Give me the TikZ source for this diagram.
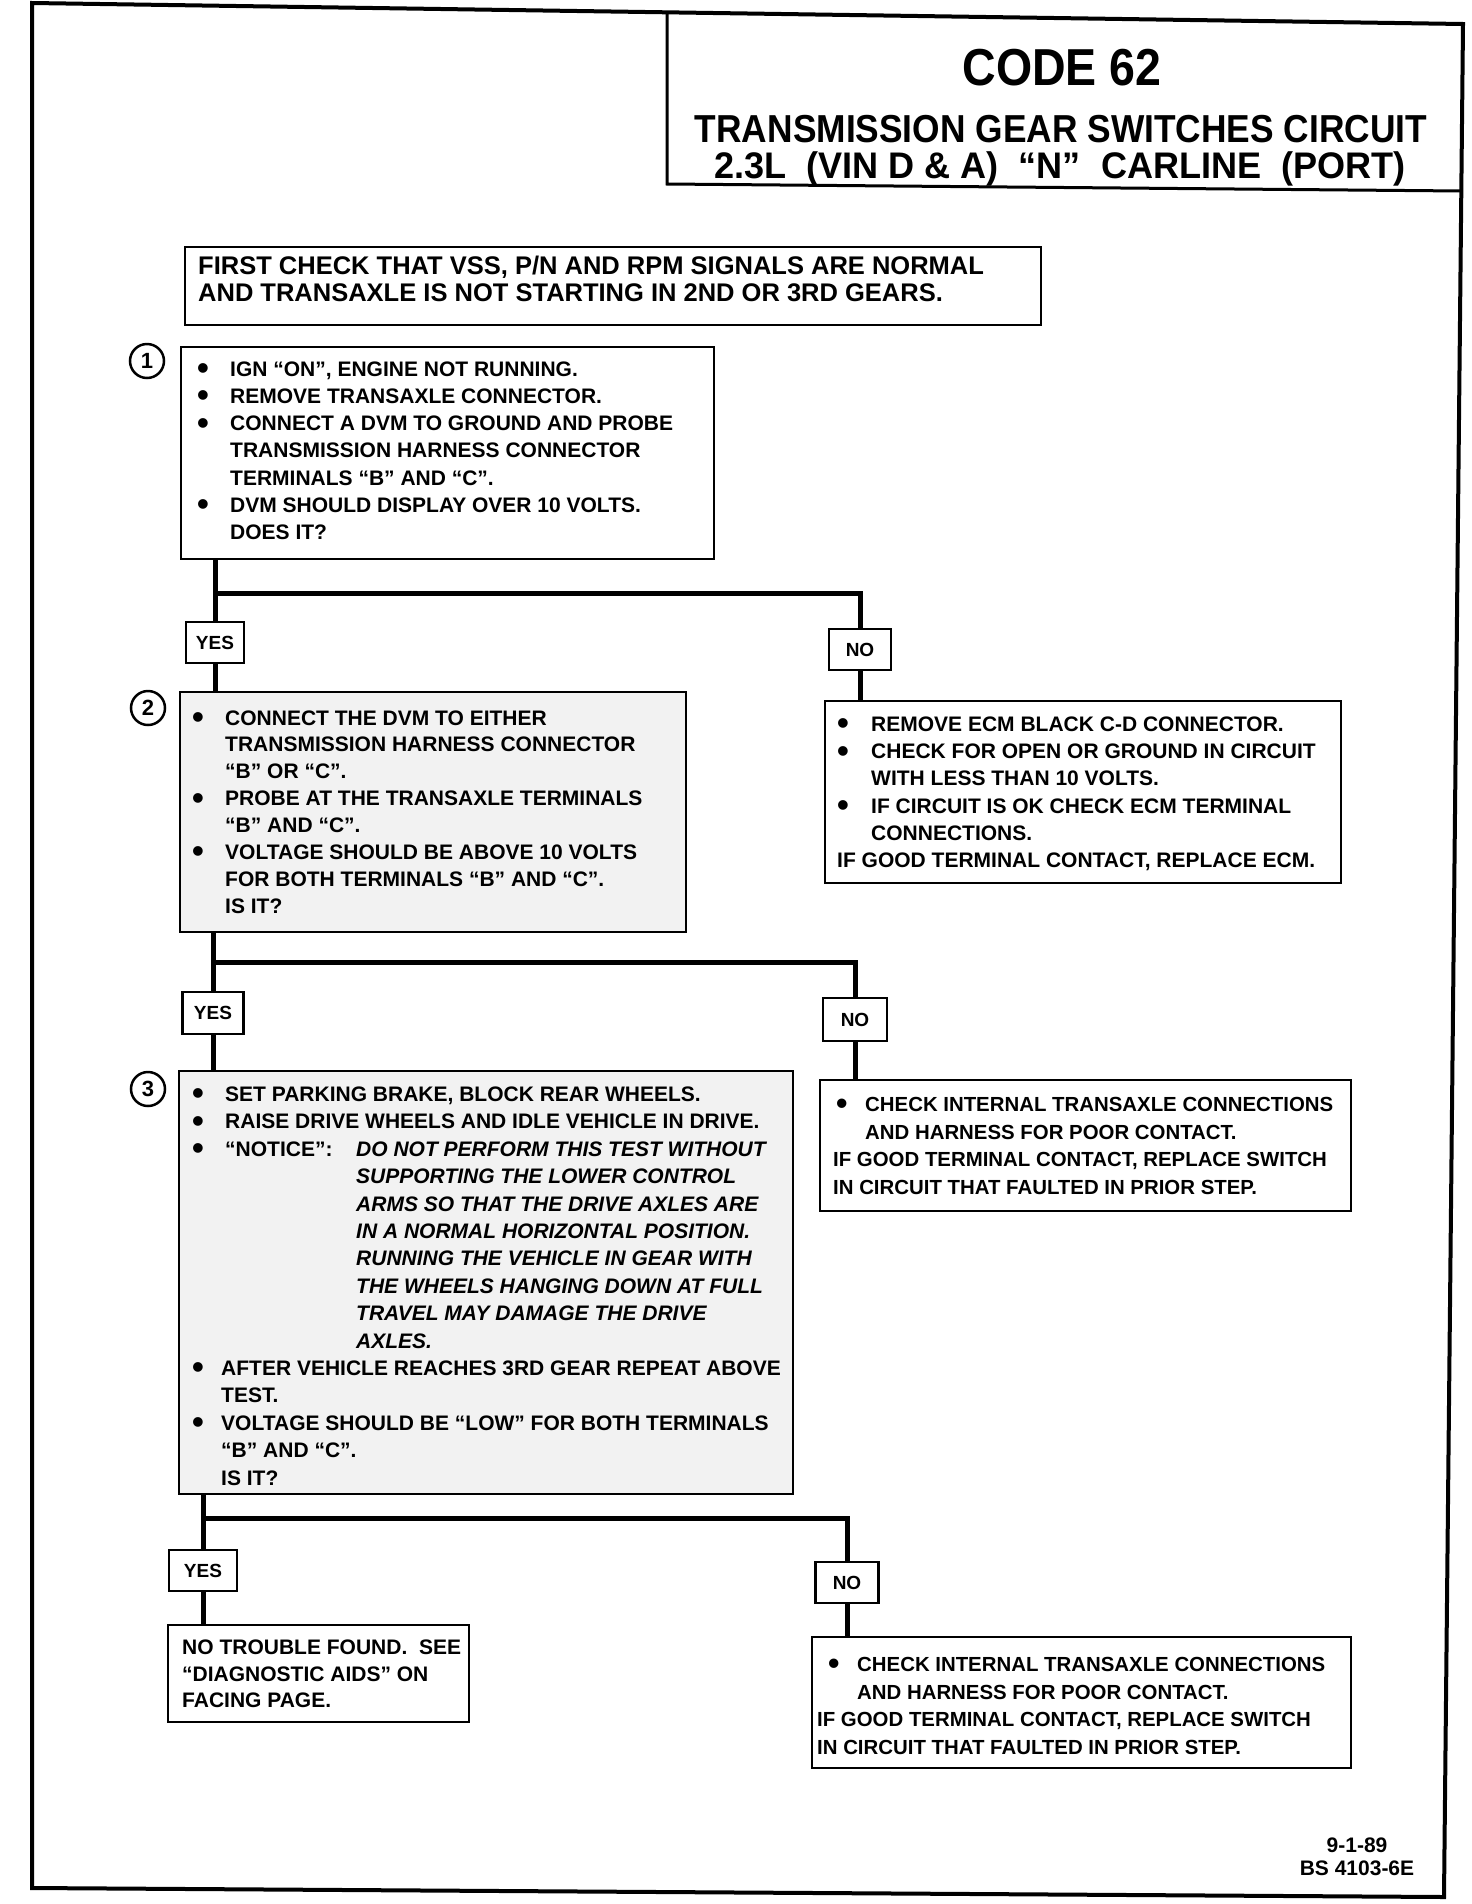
\documentclass[tikz,border=0pt]{standalone}
\usepackage{fontspec}
\usepackage{graphicx}
\setmainfont{Liberation Sans}
\newcommand{\bigdot}{\raisebox{-3.4pt}[0pt][0pt]{\scalebox{1.6}{\textbullet}}}
\newcommand{\bul}[1][33pt]{\makebox[#1][l]{\bigdot}}
\newcommand{\ind}[1][33pt]{\hspace*{#1}}
\newcommand{\tl}[1]{\parbox[t]{900pt}{\raggedright #1}}
\newcommand{\bx}[6][]{\node[boxst,#1,minimum width={#5-#3},minimum height={#6-#4}] (#2) at ({(#3+#5)/2},{(#4+#6)/2}) {};}
\begin{document}
\begin{tikzpicture}[x=1pt,y=-1pt,
  boxst/.style={draw, line width=2.5pt, inner sep=0pt, fill=white},
  shaded/.style={fill=black!5},
  txt/.style={anchor=base west, inner sep=0pt, font=\fontsize{21}{#1}\selectfont\bfseries},
  txt/.default=27.3,
  txtn/.style={anchor=base west, inner sep=0pt, font=\fontsize{20.4}{#1}\selectfont\bfseries},
  lbl/.style={draw, line width=2.5pt, inner sep=0pt, fill=white, font=\fontsize{19}{19}\selectfont\bfseries},
  conn/.style={line width=5pt},
  num/.style={draw, circle, line width=2.5pt, minimum size=34pt, inner sep=0pt, font=\fontsize{22}{22}\selectfont\bfseries}]
\useasboundingbox (0,0) rectangle (1472,1904);
\fill[white] (0,0) rectangle (1472,1904);
% frame
\draw[line width=4pt, line join=miter] (32,3) -- (1463,24) -- (1444,1897) -- (32,1888) -- cycle;
% title box
\draw[line width=3pt] (667,13) -- (667,184) -- (1462,191);
\node[anchor=base, inner sep=0pt] (code) at (1062,85) {\fontsize{52}{52}\selectfont\bfseries\scalebox{0.894}[1]{CODE 62}};
\node[anchor=base, inner sep=0pt] (tl2) at (1061,142) {\fontsize{39}{39}\selectfont\bfseries\scalebox{0.906}[1]{TRANSMISSION GEAR SWITCHES CIRCUIT}};
\node[anchor=base, inner sep=0pt] (tl3) at (1060,178) {\fontsize{37}{37}\selectfont\bfseries\scalebox{0.975}[1]{2.3L\ \ (VIN D \& A)\ \ “N”\ \ CARLINE\ \ (PORT)}};

% boxes
\bx{fc}{185}{247}{1041}{325}
\bx{b1}{181}{347}{714}{559}
\bx{n1r}{825}{701}{1341}{883}
\bx[shaded]{b2}{180}{692}{686}{932}
\bx{n2r}{820}{1080}{1351}{1211}
\bx[shaded]{b3}{179}{1071}{793}{1494}
\bx{y3r}{168}{1625}{469}{1722}
\bx{n3r}{812}{1637}{1351}{1768}

% yes / no labels
\node[lbl, minimum width=58pt, minimum height=41pt] (yes1) at (215,642.5) {YES};
\node[lbl, minimum width=62pt, minimum height=41pt] (no1) at (860,649.5) {NO};
\node[lbl, minimum width=61pt, minimum height=42pt] (yes2) at (213,1013) {YES};
\node[lbl, minimum width=64pt, minimum height=43pt] (no2) at (855,1019.5) {NO};
\node[lbl, minimum width=68pt, minimum height=41pt] (yes3) at (203,1570.5) {YES};
\node[lbl, minimum width=63pt, minimum height=41pt] (no3) at (847,1582.5) {NO};

% step numbers
\node[num] (c1) at (147,361) {1};
\node[num] (c2) at (148,708) {2};
\node[num] (c3) at (148,1089) {3};

% junctions
\coordinate (j1) at (215,593);
\coordinate (j2) at (213,962);
\coordinate (j3) at (203,1518);

% connectors
\draw[conn] (b1.south -| yes1) -- (yes1.north);
\draw[conn] (j1) -| (no1.north);
\draw[conn] (yes1.south) -- (b2.north -| yes1);
\draw[conn] (no1.south) -- (n1r.north -| no1);
\draw[conn] (b2.south -| yes2) -- (yes2.north);
\draw[conn] (j2) -| (no2.north);
\draw[conn] (yes2.south) -- (b3.north -| yes2);
\draw[conn] (no2.south) -- (n2r.north -| no2);
\draw[conn] (b3.south -| yes3) -- (yes3.north);
\draw[conn] (j3) -| (no3.north);
\draw[conn] (yes3.south) -- (y3r.north -| yes3);
\draw[conn] (no3.south) -- (n3r.north -| no3);

% texts
\node[anchor=base west, inner sep=0pt, font=\fontsize{25.5}{27}\selectfont\bfseries] (fct) at (198,274.5)
 {\tl{FIRST CHECK THAT VSS, P/N AND RPM SIGNALS ARE NORMAL\\
  AND TRANSAXLE IS NOT STARTING IN 2ND OR 3RD GEARS.}};

\node[txt=27.3] (b1t) at (197,376)
 {\tl{\bul IGN “ON”, ENGINE NOT RUNNING.\\
  \bul REMOVE TRANSAXLE CONNECTOR.\\
  \bul CONNECT A DVM TO GROUND AND PROBE\\
  \ind TRANSMISSION HARNESS CONNECTOR\\
  \ind TERMINALS “B” AND “C”.\\
  \bul DVM SHOULD DISPLAY OVER 10 VOLTS.\\
  \ind DOES IT?}};

\node[txt=27.2] (n1t) at (837,731.5)
 {\tl{\bul[34pt]REMOVE ECM BLACK C-D CONNECTOR.\\
  \bul[34pt]CHECK FOR OPEN OR GROUND IN CIRCUIT\\
  \ind[34pt]WITH LESS THAN 10 VOLTS.\\
  \bul[34pt]IF CIRCUIT IS OK CHECK ECM TERMINAL\\
  \ind[34pt]CONNECTIONS.\\
  IF GOOD TERMINAL CONTACT, REPLACE ECM.}};

\node[txt=26.9] (b2t) at (192,725)
 {\tl{\bul CONNECT THE DVM TO EITHER\\
  \ind TRANSMISSION HARNESS CONNECTOR\\
  \ind “B” OR “C”.\\
  \bul PROBE AT THE TRANSAXLE TERMINALS\\
  \ind “B” AND “C”.\\
  \bul VOLTAGE SHOULD BE ABOVE 10 VOLTS\\
  \ind FOR BOTH TERMINALS “B” AND “C”.\\
  \ind IS IT?}};

\node[txtn=27.7] (n2t) at (833,1111.5)
 {\tl{\hspace*{3pt}\bul[29pt]CHECK INTERNAL TRANSAXLE CONNECTIONS\\
  \ind[32pt]AND HARNESS FOR POOR CONTACT.\\
  IF GOOD TERMINAL CONTACT, REPLACE SWITCH\\
  IN CIRCUIT THAT FAULTED IN PRIOR STEP.}};

\node[txt=27.4] (b3t) at (192,1101.5)
 {\tl{\bul SET PARKING BRAKE, BLOCK REAR WHEELS.\\
  \bul RAISE DRIVE WHEELS AND IDLE VEHICLE IN DRIVE.\\
  \bul\makebox[131pt][l]{“NOTICE”:}{\itshape DO NOT PERFORM THIS TEST WITHOUT}\\
  \ind[164pt]{\itshape SUPPORTING THE LOWER CONTROL}\\
  \ind[164pt]{\itshape ARMS SO THAT THE DRIVE AXLES ARE}\\
  \ind[164pt]{\itshape IN A NORMAL HORIZONTAL POSITION.}\\
  \ind[164pt]{\itshape RUNNING THE VEHICLE IN GEAR WITH}\\
  \ind[164pt]{\itshape THE WHEELS HANGING DOWN AT FULL}\\
  \ind[164pt]{\itshape TRAVEL MAY DAMAGE THE DRIVE}\\
  \ind[164pt]{\itshape AXLES.}\\
  \bul[29pt]AFTER VEHICLE REACHES 3RD GEAR REPEAT ABOVE\\
  \ind[29pt]TEST.\\
  \bul[29pt]VOLTAGE SHOULD BE “LOW” FOR BOTH TERMINALS\\
  \ind[29pt]“B” AND “C”.\\
  \ind[29pt]IS IT?}};

\node[txt=26.5] (y3t) at (182,1654.5)
 {\tl{NO TROUBLE FOUND.\ \ SEE\\
  “DIAGNOSTIC AIDS” ON\\
  FACING PAGE.}};

\node[txtn=27.7] (n3t) at (817,1671.5)
 {\tl{\hspace*{11pt}\bul[29pt]CHECK INTERNAL TRANSAXLE CONNECTIONS\\
  \ind[40pt]AND HARNESS FOR POOR CONTACT.\\
  IF GOOD TERMINAL CONTACT, REPLACE SWITCH\\
  IN CIRCUIT THAT FAULTED IN PRIOR STEP.}};

% footer
\node[anchor=base, inner sep=0pt, font=\fontsize{21}{21}\selectfont\bfseries] (date) at (1357,1852) {9-1-89};
\node[anchor=base, inner sep=0pt, font=\fontsize{21}{21}\selectfont\bfseries] (docno) at (1357,1875) {BS 4103-6E};
\end{tikzpicture}
\end{document}
